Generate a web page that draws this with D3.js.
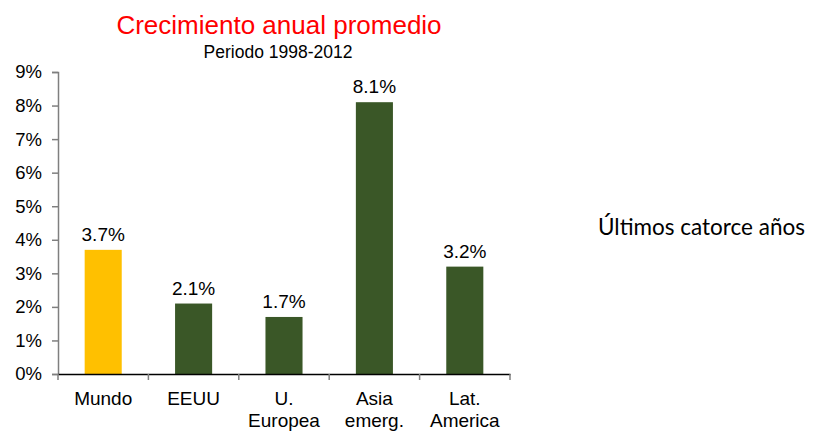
<!DOCTYPE html>
<html>
<head>
<meta charset="utf-8">
<script src="https://cdn.jsdelivr.net/npm/d3@7"></script>
<style>
  body { margin: 0; background: #fff; }
  svg text { font-family: "Liberation Sans", Arial, sans-serif; }
</style>
</head>
<body>
<div id="chart"></div>
<script>
// data
const categories = [["Mundo"], ["EEUU"], ["U.", "Europea"], ["Asia", "emerg."], ["Lat.", "America"]];
const values = [3.7, 2.1, 1.7, 8.1, 3.2];
const barColors = ["#FFC000", "#3A5727", "#3A5727", "#3A5727", "#3A5727"];
const yTicks = [0, 1, 2, 3, 4, 5, 6, 7, 8, 9];

const width = 835, height = 431;
const margin = { top: 72, right: 325, bottom: 57, left: 58 };
const innerWidth = width - margin.left - margin.right;
const innerHeight = height - margin.top - margin.bottom;

const svg = d3.select("#chart").append("svg")
    .attr("width", width)
    .attr("height", height);

const g = svg.append("g")
    .attr("transform", `translate(${margin.left},${margin.top})`);

const x = d3.scaleBand()
    .domain(d3.range(values.length))
    .range([0, innerWidth])
    .padding(0);

const y = d3.scaleLinear()
    .domain([0, 9])
    .range([innerHeight, 0]);

const barWidth = x.bandwidth() * 0.41;

// y axis
const yAxis = g.append("g")
    .call(d3.axisLeft(y).tickValues(yTicks).tickSize(6).tickPadding(10).tickFormat(d => d + "%"));
yAxis.select(".domain").attr("stroke", "#7f7f7f").attr("stroke-width", 1.5);
yAxis.selectAll(".tick line").attr("stroke", "#7f7f7f").attr("stroke-width", 1.5);
yAxis.selectAll(".tick text").attr("fill", "#000").style("font-size", "18.5px");

// bars
g.selectAll(".bar")
    .data(values)
    .enter().append("rect")
    .attr("class", "bar")
    .attr("x", (d, i) => x(i) + (x.bandwidth() - barWidth) / 2)
    .attr("y", d => y(d))
    .attr("width", barWidth)
    .attr("height", d => innerHeight - y(d))
    .attr("fill", (d, i) => barColors[i]);

// value labels
g.selectAll(".value-label")
    .data(values)
    .enter().append("text")
    .attr("class", "value-label")
    .attr("x", (d, i) => x(i) + x.bandwidth() / 2)
    .attr("y", d => y(d) - 9)
    .attr("text-anchor", "middle")
    .style("font-size", "19px")
    .attr("fill", "#000")
    .text(d => d.toFixed(1) + "%");

// x axis
const xAxis = g.append("g")
    .attr("transform", `translate(0,${innerHeight})`)
    .call(d3.axisBottom(x).tickSize(0).tickFormat(""));
xAxis.select(".domain").attr("stroke", "#000").attr("stroke-width", 1.5);

// tick marks between categories
g.selectAll(".x-sep")
    .data(d3.range(values.length + 1))
    .enter().append("line")
    .attr("class", "x-sep")
    .attr("x1", i => i < values.length ? x(i) : x(values.length - 1) + x.bandwidth())
    .attr("x2", i => i < values.length ? x(i) : x(values.length - 1) + x.bandwidth())
    .attr("y1", innerHeight)
    .attr("y2", innerHeight + 6)
    .attr("stroke", "#7f7f7f")
    .attr("stroke-width", 1.5);

// category labels
const catLabels = g.selectAll(".cat-label")
    .data(categories)
    .enter().append("text")
    .attr("class", "cat-label")
    .attr("x", (d, i) => x(i) + x.bandwidth() / 2)
    .attr("y", innerHeight + 31)
    .attr("text-anchor", "middle")
    .style("font-size", "19px")
    .attr("fill", "#000");
catLabels.selectAll("tspan")
    .data(d => d)
    .enter().append("tspan")
    .attr("x", function() { return d3.select(this.parentNode).attr("x"); })
    .attr("dy", (d, i) => i === 0 ? 0 : 22)
    .text(d => d);

// titles
svg.append("text")
    .attr("x", 279)
    .attr("y", 34)
    .attr("text-anchor", "middle")
    .attr("fill", "#FF0000")
    .style("font-size", "26px")
    .text("Crecimiento anual promedio");

svg.append("text")
    .attr("x", 278)
    .attr("y", 58)
    .attr("text-anchor", "middle")
    .attr("fill", "#000")
    .style("font-size", "17.5px")
    .text("Periodo 1998-2012");

svg.append("text")
    .attr("x", 598)
    .attr("y", 235)
    .attr("fill", "#000")
    .style("font-family", "Lato, 'Open Sans', sans-serif")
    .style("font-size", "22.5px")
    .text("Últimos catorce años");
</script>
</body>
</html>
